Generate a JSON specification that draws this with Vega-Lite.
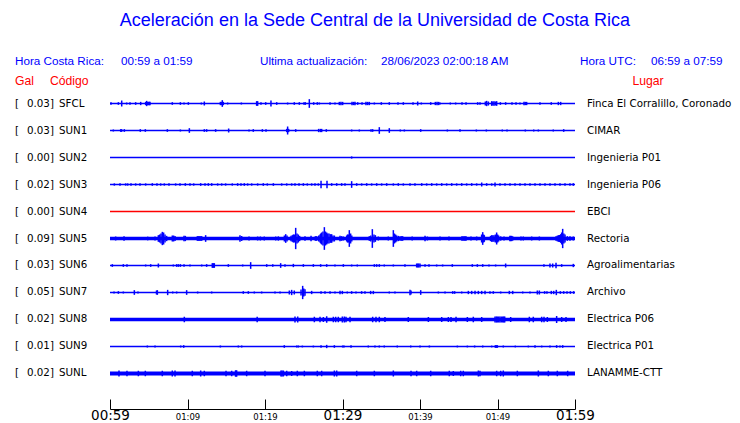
{
  "$schema": "https://vega.github.io/schema/vega-lite/v6.json",
  "width": 465,
  "height": 341,
  "autosize": {"type": "none"},
  "padding": {"left": 110, "top": 68, "right": 165, "bottom": 14},
  "background": "white",
  "config": {"view": {"stroke": null}, "text": {"font": "DejaVu Sans"}},
  "datasets": {
    "estaciones": [
      {"est": "SFCL", "gal": 0.03, "lugar": "Finca El Corralillo, Coronado", "ruido": 1.7, "estado": "activa"},
      {"est": "SUN1", "gal": 0.03, "lugar": "CIMAR", "ruido": 1.7, "estado": "activa"},
      {"est": "SUN2", "gal": 0.00, "lugar": "Ingenieria P01", "ruido": 1.5, "estado": "activa"},
      {"est": "SUN3", "gal": 0.02, "lugar": "Ingenieria P06", "ruido": 1.7, "estado": "activa"},
      {"est": "SUN4", "gal": 0.00, "lugar": "EBCI", "ruido": 1.3, "estado": "sin datos"},
      {"est": "SUN5", "gal": 0.09, "lugar": "Rectoria", "ruido": 3.3, "estado": "activa"},
      {"est": "SUN6", "gal": 0.03, "lugar": "Agroalimentarias", "ruido": 1.7, "estado": "activa"},
      {"est": "SUN7", "gal": 0.05, "lugar": "Archivo", "ruido": 1.7, "estado": "activa"},
      {"est": "SUN8", "gal": 0.02, "lugar": "Electrica P06", "ruido": 3.7, "estado": "activa"},
      {"est": "SUN9", "gal": 0.01, "lugar": "Electrica P01", "ruido": 1.3, "estado": "activa"},
      {"est": "SUNL", "gal": 0.02, "lugar": "LANAMME-CTT", "ruido": 4.0, "estado": "activa"}
    ],
    "picos": [
      {"est":"SFCL","min":0.13,"amp":2.7},{"est":"SFCL","min":1.08,"amp":2.7},{"est":"SFCL","min":1.51,"amp":6},{"est":"SFCL","min":2.15,"amp":2},{"est":"SFCL","min":2.58,"amp":2.7},{"est":"SFCL","min":3.31,"amp":2.7},{"est":"SFCL","min":3.96,"amp":3.3},{"est":"SFCL","min":4.6,"amp":3.3},{"est":"SFCL","min":4.73,"amp":5.3},{"est":"SFCL","min":4.85,"amp":3.3},{"est":"SFCL","min":4.95,"amp":3.3},{"est":"SFCL","min":5.06,"amp":3.3},{"est":"SFCL","min":5.16,"amp":3.3},{"est":"SFCL","min":8.04,"amp":2.7},{"est":"SFCL","min":9.08,"amp":2.7},{"est":"SFCL","min":9.55,"amp":2},{"est":"SFCL","min":10.11,"amp":2.7},{"est":"SFCL","min":11.79,"amp":2},{"est":"SFCL","min":12.17,"amp":4},{"est":"SFCL","min":14.24,"amp":3.3},{"est":"SFCL","min":14.37,"amp":3.3},{"est":"SFCL","min":14.49,"amp":6.7},{"est":"SFCL","min":14.62,"amp":3.3},{"est":"SFCL","min":15.18,"amp":2},{"est":"SFCL","min":16.95,"amp":2},{"est":"SFCL","min":18.92,"amp":4.7},{"est":"SFCL","min":19.05,"amp":4.7},{"est":"SFCL","min":19.48,"amp":2.7},{"est":"SFCL","min":20.09,"amp":2.7},{"est":"SFCL","min":20.77,"amp":6},{"est":"SFCL","min":21.51,"amp":2.7},{"est":"SFCL","min":22.92,"amp":2},{"est":"SFCL","min":23.78,"amp":2.7},{"est":"SFCL","min":24.43,"amp":2.7},{"est":"SFCL","min":25.03,"amp":2.7},{"est":"SFCL","min":25.2,"amp":2.7},{"est":"SFCL","min":25.72,"amp":8.7},{"est":"SFCL","min":26.28,"amp":2.7},{"est":"SFCL","min":26.75,"amp":2.7},{"est":"SFCL","min":27.01,"amp":2},{"est":"SFCL","min":28.39,"amp":2.7},{"est":"SFCL","min":29.03,"amp":2},{"est":"SFCL","min":29.59,"amp":3.3},{"est":"SFCL","min":29.8,"amp":3.3},{"est":"SFCL","min":30.02,"amp":3.3},{"est":"SFCL","min":31.23,"amp":3.3},{"est":"SFCL","min":31.44,"amp":3.3},{"est":"SFCL","min":31.61,"amp":3.3},{"est":"SFCL","min":31.96,"amp":2.7},{"est":"SFCL","min":32.52,"amp":2.7},{"est":"SFCL","min":33.03,"amp":3.3},{"est":"SFCL","min":33.25,"amp":3.3},{"est":"SFCL","min":33.46,"amp":3.3},{"est":"SFCL","min":34.11,"amp":2},{"est":"SFCL","min":35.01,"amp":2.7},{"est":"SFCL","min":36.04,"amp":2.7},{"est":"SFCL","min":37.16,"amp":2.7},{"est":"SFCL","min":37.85,"amp":2.7},{"est":"SFCL","min":39.1,"amp":2.7},{"est":"SFCL","min":39.7,"amp":4},{"est":"SFCL","min":40.17,"amp":2},{"est":"SFCL","min":41.38,"amp":2.7},{"est":"SFCL","min":41.98,"amp":3.3},{"est":"SFCL","min":42.2,"amp":3.3},{"est":"SFCL","min":42.41,"amp":3.3},{"est":"SFCL","min":42.58,"amp":2},{"est":"SFCL","min":43.91,"amp":2},{"est":"SFCL","min":44.6,"amp":2},{"est":"SFCL","min":45.42,"amp":2.7},{"est":"SFCL","min":45.94,"amp":2.7},{"est":"SFCL","min":47.44,"amp":2.7},{"est":"SFCL","min":47.74,"amp":2.7},{"est":"SFCL","min":48.43,"amp":4},{"est":"SFCL","min":48.6,"amp":5.3},{"est":"SFCL","min":48.82,"amp":4},{"est":"SFCL","min":49.25,"amp":4.7},{"est":"SFCL","min":49.4,"amp":4},{"est":"SFCL","min":49.55,"amp":4.7},{"est":"SFCL","min":49.72,"amp":4},{"est":"SFCL","min":49.89,"amp":4.7},{"est":"SFCL","min":50.37,"amp":2.7},{"est":"SFCL","min":51.05,"amp":2.7},{"est":"SFCL","min":51.87,"amp":2.7},{"est":"SFCL","min":52.39,"amp":2.7},{"est":"SFCL","min":52.9,"amp":2},{"est":"SFCL","min":53.42,"amp":3.3},{"est":"SFCL","min":53.59,"amp":3.3},{"est":"SFCL","min":53.76,"amp":3.3},{"est":"SFCL","min":55.48,"amp":2.7},{"est":"SFCL","min":56.94,"amp":2.7},{"est":"SFCL","min":57.85,"amp":3.3},{"est":"SFCL","min":58.15,"amp":3.3},
      {"est":"SUN1","min":0.43,"amp":2},{"est":"SUN1","min":1.38,"amp":2.7},{"est":"SUN1","min":1.5,"amp":2.7},{"est":"SUN1","min":1.85,"amp":2.7},{"est":"SUN1","min":3.91,"amp":2.7},{"est":"SUN1","min":4.56,"amp":2.7},{"est":"SUN1","min":7.4,"amp":2.7},{"est":"SUN1","min":9.08,"amp":2},{"est":"SUN1","min":10.24,"amp":4.7},{"est":"SUN1","min":12.17,"amp":2.7},{"est":"SUN1","min":12.47,"amp":2.7},{"est":"SUN1","min":13.63,"amp":2.7},{"est":"SUN1","min":15.31,"amp":4},{"est":"SUN1","min":17.94,"amp":2},{"est":"SUN1","min":18.49,"amp":2.7},{"est":"SUN1","min":19.66,"amp":2.7},{"est":"SUN1","min":20.13,"amp":2.7},{"est":"SUN1","min":22.8,"amp":3.3},{"est":"SUN1","min":22.92,"amp":8},{"est":"SUN1","min":23.05,"amp":3.3},{"est":"SUN1","min":23.96,"amp":2.7},{"est":"SUN1","min":26.92,"amp":3.3},{"est":"SUN1","min":27.14,"amp":3.3},{"est":"SUN1","min":27.31,"amp":3.3},{"est":"SUN1","min":27.91,"amp":2.7},{"est":"SUN1","min":31.18,"amp":2},{"est":"SUN1","min":32.17,"amp":2},{"est":"SUN1","min":33.68,"amp":2.7},{"est":"SUN1","min":33.89,"amp":2.7},{"est":"SUN1","min":34.75,"amp":6.7},{"est":"SUN1","min":36.04,"amp":4.7},{"est":"SUN1","min":37.46,"amp":2},{"est":"SUN1","min":37.98,"amp":2},{"est":"SUN1","min":40.09,"amp":2.7},{"est":"SUN1","min":43.53,"amp":2},{"est":"SUN1","min":45.16,"amp":2.7},{"est":"SUN1","min":47.27,"amp":2},{"est":"SUN1","min":48.56,"amp":2},{"est":"SUN1","min":50.62,"amp":2},{"est":"SUN1","min":51.23,"amp":2},{"est":"SUN1","min":53.59,"amp":2},{"est":"SUN1","min":54.67,"amp":2},{"est":"SUN1","min":55.27,"amp":2},{"est":"SUN1","min":57.2,"amp":2},{"est":"SUN1","min":58.54,"amp":2.7},
      {"est":"SUN2","min":31.18,"amp":2.2},
      {"est":"SUN3","min":0.56,"amp":2.3},{"est":"SUN3","min":1.29,"amp":2.7},{"est":"SUN3","min":2.02,"amp":2.3},{"est":"SUN3","min":2.28,"amp":2.3},{"est":"SUN3","min":2.71,"amp":2.3},{"est":"SUN3","min":3.31,"amp":2.3},{"est":"SUN3","min":3.87,"amp":2.3},{"est":"SUN3","min":4.6,"amp":2.3},{"est":"SUN3","min":5.46,"amp":2.7},{"est":"SUN3","min":6.06,"amp":2.7},{"est":"SUN3","min":6.54,"amp":2.3},{"est":"SUN3","min":7.01,"amp":2.3},{"est":"SUN3","min":7.61,"amp":2.3},{"est":"SUN3","min":8.47,"amp":2.3},{"est":"SUN3","min":9.03,"amp":2.3},{"est":"SUN3","min":9.72,"amp":2.7},{"est":"SUN3","min":10.32,"amp":2.3},{"est":"SUN3","min":10.8,"amp":2.3},{"est":"SUN3","min":11.7,"amp":2.7},{"est":"SUN3","min":12.26,"amp":2.7},{"est":"SUN3","min":12.69,"amp":2.7},{"est":"SUN3","min":13.12,"amp":2.7},{"est":"SUN3","min":13.89,"amp":2.3},{"est":"SUN3","min":14.41,"amp":2.3},{"est":"SUN3","min":14.92,"amp":2.3},{"est":"SUN3","min":15.78,"amp":2.3},{"est":"SUN3","min":16.47,"amp":2.7},{"est":"SUN3","min":16.9,"amp":2.7},{"est":"SUN3","min":17.33,"amp":2.7},{"est":"SUN3","min":17.76,"amp":2.3},{"est":"SUN3","min":18.28,"amp":2.3},{"est":"SUN3","min":19.05,"amp":2.3},{"est":"SUN3","min":19.78,"amp":2.7},{"est":"SUN3","min":20.3,"amp":2.3},{"est":"SUN3","min":21.08,"amp":2.7},{"est":"SUN3","min":22.15,"amp":2.3},{"est":"SUN3","min":22.8,"amp":2.3},{"est":"SUN3","min":23.44,"amp":2.3},{"est":"SUN3","min":23.87,"amp":2.7},{"est":"SUN3","min":24.39,"amp":2.7},{"est":"SUN3","min":24.95,"amp":2.7},{"est":"SUN3","min":25.46,"amp":2.3},{"est":"SUN3","min":26.02,"amp":2.3},{"est":"SUN3","min":26.45,"amp":2.3},{"est":"SUN3","min":26.88,"amp":2.3},{"est":"SUN3","min":27.23,"amp":7.3},{"est":"SUN3","min":28.0,"amp":7.3},{"est":"SUN3","min":28.6,"amp":2.7},{"est":"SUN3","min":29.25,"amp":2.7},{"est":"SUN3","min":29.89,"amp":2.7},{"est":"SUN3","min":30.32,"amp":2.7},{"est":"SUN3","min":31.18,"amp":6.7},{"est":"SUN3","min":31.83,"amp":2.7},{"est":"SUN3","min":32.47,"amp":2.3},{"est":"SUN3","min":33.12,"amp":2.7},{"est":"SUN3","min":33.76,"amp":2.3},{"est":"SUN3","min":34.41,"amp":2.7},{"est":"SUN3","min":35.05,"amp":2.3},{"est":"SUN3","min":35.7,"amp":2.7},{"est":"SUN3","min":36.56,"amp":2.3},{"est":"SUN3","min":37.2,"amp":2.7},{"est":"SUN3","min":37.85,"amp":2.3},{"est":"SUN3","min":38.71,"amp":2.7},{"est":"SUN3","min":39.35,"amp":2.3},{"est":"SUN3","min":40.22,"amp":2.7},{"est":"SUN3","min":40.86,"amp":2.3},{"est":"SUN3","min":41.51,"amp":2.7},{"est":"SUN3","min":42.15,"amp":2.3},{"est":"SUN3","min":42.8,"amp":2.7},{"est":"SUN3","min":43.44,"amp":2.3},{"est":"SUN3","min":44.09,"amp":2.7},{"est":"SUN3","min":44.73,"amp":2.3},{"est":"SUN3","min":45.38,"amp":2.7},{"est":"SUN3","min":46.02,"amp":2.3},{"est":"SUN3","min":46.67,"amp":2.7},{"est":"SUN3","min":47.31,"amp":2.3},{"est":"SUN3","min":47.96,"amp":4},{"est":"SUN3","min":48.6,"amp":2.7},{"est":"SUN3","min":49.25,"amp":2.3},{"est":"SUN3","min":49.68,"amp":4},{"est":"SUN3","min":50.32,"amp":2.7},{"est":"SUN3","min":50.97,"amp":2.3},{"est":"SUN3","min":51.61,"amp":2.7},{"est":"SUN3","min":52.26,"amp":2.3},{"est":"SUN3","min":52.9,"amp":2.7},{"est":"SUN3","min":53.55,"amp":2.3},{"est":"SUN3","min":54.19,"amp":2.7},{"est":"SUN3","min":54.84,"amp":2.3},{"est":"SUN3","min":55.48,"amp":2.7},{"est":"SUN3","min":56.13,"amp":2.3},{"est":"SUN3","min":56.77,"amp":2.7},{"est":"SUN3","min":57.42,"amp":2.3},{"est":"SUN3","min":58.06,"amp":2.7},{"est":"SUN3","min":58.71,"amp":2.7},{"est":"SUN3","min":59.35,"amp":2.7},{"est":"SUN3","min":59.78,"amp":2.7},
      {"est":"SUN5","min":0.73,"amp":4},{"est":"SUN5","min":1.81,"amp":4.7},{"est":"SUN5","min":4.86,"amp":3.7},{"est":"SUN5","min":5.81,"amp":4},{"est":"SUN5","min":6.24,"amp":6.7},{"est":"SUN5","min":6.41,"amp":8},{"est":"SUN5","min":6.58,"amp":10},{"est":"SUN5","min":6.75,"amp":13.3},{"est":"SUN5","min":6.92,"amp":12},{"est":"SUN5","min":7.1,"amp":8},{"est":"SUN5","min":7.31,"amp":5.3},{"est":"SUN5","min":8.04,"amp":6},{"est":"SUN5","min":8.21,"amp":6},{"est":"SUN5","min":8.39,"amp":5},{"est":"SUN5","min":9.55,"amp":5.3},{"est":"SUN5","min":9.72,"amp":5.3},{"est":"SUN5","min":11.27,"amp":4.7},{"est":"SUN5","min":11.4,"amp":4.7},{"est":"SUN5","min":11.53,"amp":4.7},{"est":"SUN5","min":11.68,"amp":4.7},{"est":"SUN5","min":11.83,"amp":4.7},{"est":"SUN5","min":12.34,"amp":6.7},{"est":"SUN5","min":16.77,"amp":6.7},{"est":"SUN5","min":16.99,"amp":5},{"est":"SUN5","min":17.94,"amp":4},{"est":"SUN5","min":19.05,"amp":4},{"est":"SUN5","min":19.4,"amp":4},{"est":"SUN5","min":19.91,"amp":4},{"est":"SUN5","min":21.38,"amp":4},{"est":"SUN5","min":21.72,"amp":4.3},{"est":"SUN5","min":22.5,"amp":6},{"est":"SUN5","min":22.67,"amp":8.7},{"est":"SUN5","min":22.84,"amp":6},{"est":"SUN5","min":23.36,"amp":5.3},{"est":"SUN5","min":23.53,"amp":6.7},{"est":"SUN5","min":23.66,"amp":8},{"est":"SUN5","min":23.78,"amp":8},{"est":"SUN5","min":23.96,"amp":21.3},{"est":"SUN5","min":24.13,"amp":10},{"est":"SUN5","min":24.3,"amp":8},{"est":"SUN5","min":24.47,"amp":5.3},{"est":"SUN5","min":25.16,"amp":4.7},{"est":"SUN5","min":25.94,"amp":5.3},{"est":"SUN5","min":26.5,"amp":4.7},{"est":"SUN5","min":26.67,"amp":4.7},{"est":"SUN5","min":26.93,"amp":6},{"est":"SUN5","min":27.1,"amp":8},{"est":"SUN5","min":27.2,"amp":10},{"est":"SUN5","min":27.31,"amp":12},{"est":"SUN5","min":27.48,"amp":14},{"est":"SUN5","min":27.66,"amp":22.7},{"est":"SUN5","min":27.8,"amp":14},{"est":"SUN5","min":27.96,"amp":12},{"est":"SUN5","min":28.1,"amp":10},{"est":"SUN5","min":28.26,"amp":10},{"est":"SUN5","min":28.43,"amp":8.7},{"est":"SUN5","min":28.6,"amp":8.7},{"est":"SUN5","min":28.77,"amp":6},{"est":"SUN5","min":28.95,"amp":6},{"est":"SUN5","min":29.68,"amp":5.3},{"est":"SUN5","min":29.89,"amp":4.7},{"est":"SUN5","min":30.11,"amp":4},{"est":"SUN5","min":30.54,"amp":6},{"est":"SUN5","min":30.65,"amp":8},{"est":"SUN5","min":30.75,"amp":8},{"est":"SUN5","min":30.88,"amp":16.7},{"est":"SUN5","min":31.05,"amp":10},{"est":"SUN5","min":31.2,"amp":6},{"est":"SUN5","min":33.46,"amp":4.7},{"est":"SUN5","min":33.65,"amp":6},{"est":"SUN5","min":33.85,"amp":18.7},{"est":"SUN5","min":34.06,"amp":8},{"est":"SUN5","min":34.24,"amp":6.7},{"est":"SUN5","min":34.62,"amp":4},{"est":"SUN5","min":35.91,"amp":4},{"est":"SUN5","min":36.56,"amp":16.7},{"est":"SUN5","min":36.7,"amp":10},{"est":"SUN5","min":36.85,"amp":8},{"est":"SUN5","min":36.99,"amp":6},{"est":"SUN5","min":37.2,"amp":5.3},{"est":"SUN5","min":37.42,"amp":4.7},{"est":"SUN5","min":37.6,"amp":4.7},{"est":"SUN5","min":37.76,"amp":4.7},{"est":"SUN5","min":38.99,"amp":4},{"est":"SUN5","min":40.65,"amp":5.3},{"est":"SUN5","min":40.95,"amp":4},{"est":"SUN5","min":42.58,"amp":4},{"est":"SUN5","min":43.74,"amp":4},{"est":"SUN5","min":45.38,"amp":4.3},{"est":"SUN5","min":45.53,"amp":4.3},{"est":"SUN5","min":45.68,"amp":4.3},{"est":"SUN5","min":45.81,"amp":4.3},{"est":"SUN5","min":45.94,"amp":4.3},{"est":"SUN5","min":46.58,"amp":4},{"est":"SUN5","min":47.31,"amp":4},{"est":"SUN5","min":47.95,"amp":8},{"est":"SUN5","min":48.09,"amp":12.7},{"est":"SUN5","min":48.2,"amp":8},{"est":"SUN5","min":48.3,"amp":6.7},{"est":"SUN5","min":49.1,"amp":5.3},{"est":"SUN5","min":49.25,"amp":6.7},{"est":"SUN5","min":49.4,"amp":6.7},{"est":"SUN5","min":49.55,"amp":6.7},{"est":"SUN5","min":49.72,"amp":8},{"est":"SUN5","min":49.89,"amp":12},{"est":"SUN5","min":50.02,"amp":8},{"est":"SUN5","min":50.15,"amp":6},{"est":"SUN5","min":50.41,"amp":4.3},{"est":"SUN5","min":50.84,"amp":4},{"est":"SUN5","min":51.6,"amp":5.3},{"est":"SUN5","min":51.7,"amp":5.3},{"est":"SUN5","min":51.83,"amp":5.3},{"est":"SUN5","min":51.96,"amp":4.3},{"est":"SUN5","min":53.03,"amp":4},{"est":"SUN5","min":53.33,"amp":4},{"est":"SUN5","min":54.41,"amp":4},{"est":"SUN5","min":55.4,"amp":4},{"est":"SUN5","min":57.55,"amp":4.3},{"est":"SUN5","min":57.7,"amp":5.3},{"est":"SUN5","min":57.85,"amp":6.7},{"est":"SUN5","min":58.0,"amp":7},{"est":"SUN5","min":58.15,"amp":8.7},{"est":"SUN5","min":58.28,"amp":12},{"est":"SUN5","min":58.41,"amp":19.3},{"est":"SUN5","min":58.56,"amp":10},{"est":"SUN5","min":58.71,"amp":8},{"est":"SUN5","min":59.01,"amp":4.7},{"est":"SUN5","min":59.35,"amp":4.7},{"est":"SUN5","min":59.78,"amp":4},
      {"est":"SUN6","min":0.3,"amp":2.7},{"est":"SUN6","min":1.72,"amp":2.7},{"est":"SUN6","min":2.19,"amp":2.7},{"est":"SUN6","min":4.6,"amp":2},{"est":"SUN6","min":5.25,"amp":2.7},{"est":"SUN6","min":6.24,"amp":4},{"est":"SUN6","min":8.17,"amp":2},{"est":"SUN6","min":8.6,"amp":2.7},{"est":"SUN6","min":8.82,"amp":2.7},{"est":"SUN6","min":9.08,"amp":2.7},{"est":"SUN6","min":9.55,"amp":2.7},{"est":"SUN6","min":10.32,"amp":2},{"est":"SUN6","min":11.83,"amp":2},{"est":"SUN6","min":12.47,"amp":2.7},{"est":"SUN6","min":13.2,"amp":4.7},{"est":"SUN6","min":13.33,"amp":4.7},{"est":"SUN6","min":13.46,"amp":4.7},{"est":"SUN6","min":15.27,"amp":2.7},{"est":"SUN6","min":17.12,"amp":2},{"est":"SUN6","min":18.15,"amp":6.7},{"est":"SUN6","min":20.22,"amp":2.7},{"est":"SUN6","min":21.0,"amp":2.7},{"est":"SUN6","min":22.02,"amp":4.7},{"est":"SUN6","min":22.58,"amp":2.7},{"est":"SUN6","min":23.66,"amp":3.3},{"est":"SUN6","min":24.95,"amp":2.7},{"est":"SUN6","min":26.24,"amp":2.7},{"est":"SUN6","min":27.18,"amp":2.7},{"est":"SUN6","min":27.96,"amp":2.7},{"est":"SUN6","min":29.03,"amp":2},{"est":"SUN6","min":30.11,"amp":2.7},{"est":"SUN6","min":31.18,"amp":2},{"est":"SUN6","min":31.91,"amp":2},{"est":"SUN6","min":34.11,"amp":2.7},{"est":"SUN6","min":34.41,"amp":2.7},{"est":"SUN6","min":34.75,"amp":2.7},{"est":"SUN6","min":35.39,"amp":2},{"est":"SUN6","min":36.56,"amp":2},{"est":"SUN6","min":38.06,"amp":2.7},{"est":"SUN6","min":39.57,"amp":4},{"est":"SUN6","min":39.7,"amp":4},{"est":"SUN6","min":39.83,"amp":4},{"est":"SUN6","min":40.0,"amp":4},{"est":"SUN6","min":40.65,"amp":2.7},{"est":"SUN6","min":41.16,"amp":2.7},{"est":"SUN6","min":42.15,"amp":2},{"est":"SUN6","min":42.92,"amp":2},{"est":"SUN6","min":44.17,"amp":2.7},{"est":"SUN6","min":46.75,"amp":2.7},{"est":"SUN6","min":47.4,"amp":2.7},{"est":"SUN6","min":48.09,"amp":2.7},{"est":"SUN6","min":48.9,"amp":2},{"est":"SUN6","min":49.76,"amp":2},{"est":"SUN6","min":51.05,"amp":4},{"est":"SUN6","min":55.99,"amp":2.7},{"est":"SUN6","min":56.77,"amp":4},{"est":"SUN6","min":57.12,"amp":4},{"est":"SUN6","min":57.55,"amp":5.3},{"est":"SUN6","min":58.28,"amp":2.7},{"est":"SUN6","min":59.78,"amp":3.3},
      {"est":"SUN7","min":0.52,"amp":2},{"est":"SUN7","min":1.08,"amp":2.7},{"est":"SUN7","min":1.72,"amp":2},{"est":"SUN7","min":3.14,"amp":4.7},{"est":"SUN7","min":3.61,"amp":2},{"est":"SUN7","min":6.0,"amp":4},{"est":"SUN7","min":6.11,"amp":4.7},{"est":"SUN7","min":7.44,"amp":5.3},{"est":"SUN7","min":8.09,"amp":2},{"est":"SUN7","min":8.6,"amp":2},{"est":"SUN7","min":9.89,"amp":4.7},{"est":"SUN7","min":11.31,"amp":2},{"est":"SUN7","min":13.12,"amp":2},{"est":"SUN7","min":17.2,"amp":2.7},{"est":"SUN7","min":17.85,"amp":2.7},{"est":"SUN7","min":18.62,"amp":2},{"est":"SUN7","min":19.57,"amp":2},{"est":"SUN7","min":21.29,"amp":2},{"est":"SUN7","min":21.94,"amp":2},{"est":"SUN7","min":23.14,"amp":4},{"est":"SUN7","min":23.44,"amp":5.3},{"est":"SUN7","min":23.78,"amp":4},{"est":"SUN7","min":24.65,"amp":6},{"est":"SUN7","min":24.86,"amp":13.3},{"est":"SUN7","min":25.0,"amp":8},{"est":"SUN7","min":25.16,"amp":6.7},{"est":"SUN7","min":26.02,"amp":3.3},{"est":"SUN7","min":27.23,"amp":2.7},{"est":"SUN7","min":27.74,"amp":2.7},{"est":"SUN7","min":28.39,"amp":2.7},{"est":"SUN7","min":29.03,"amp":2},{"est":"SUN7","min":29.68,"amp":3.3},{"est":"SUN7","min":29.98,"amp":3.3},{"est":"SUN7","min":30.62,"amp":2},{"est":"SUN7","min":31.18,"amp":2.7},{"est":"SUN7","min":31.74,"amp":2},{"est":"SUN7","min":32.47,"amp":2.7},{"est":"SUN7","min":32.9,"amp":2.7},{"est":"SUN7","min":33.63,"amp":3.3},{"est":"SUN7","min":33.98,"amp":3.3},{"est":"SUN7","min":36.04,"amp":2},{"est":"SUN7","min":36.77,"amp":2},{"est":"SUN7","min":38.71,"amp":5.3},{"est":"SUN7","min":38.84,"amp":4},{"est":"SUN7","min":40.09,"amp":4.7},{"est":"SUN7","min":42.37,"amp":2},{"est":"SUN7","min":43.23,"amp":2},{"est":"SUN7","min":44.22,"amp":2.7},{"est":"SUN7","min":44.47,"amp":2.7},{"est":"SUN7","min":45.38,"amp":2},{"est":"SUN7","min":46.24,"amp":3.3},{"est":"SUN7","min":46.67,"amp":3.3},{"est":"SUN7","min":47.1,"amp":3.3},{"est":"SUN7","min":47.53,"amp":3.3},{"est":"SUN7","min":47.96,"amp":3.3},{"est":"SUN7","min":48.39,"amp":3.3},{"est":"SUN7","min":49.03,"amp":2.7},{"est":"SUN7","min":49.46,"amp":2.7},{"est":"SUN7","min":50.41,"amp":2},{"est":"SUN7","min":51.53,"amp":3.3},{"est":"SUN7","min":51.96,"amp":3.3},{"est":"SUN7","min":53.25,"amp":2},{"est":"SUN7","min":54.19,"amp":2},{"est":"SUN7","min":55.14,"amp":4},{"est":"SUN7","min":55.4,"amp":4},{"est":"SUN7","min":56.08,"amp":2.7},{"est":"SUN7","min":56.38,"amp":2.7},{"est":"SUN7","min":56.94,"amp":3.3},{"est":"SUN7","min":57.25,"amp":3.3},{"est":"SUN7","min":57.59,"amp":5.3},{"est":"SUN7","min":58.11,"amp":2.7},{"est":"SUN7","min":58.54,"amp":2.7},{"est":"SUN7","min":58.97,"amp":2.7},{"est":"SUN7","min":59.4,"amp":2.7},{"est":"SUN7","min":59.83,"amp":2.7},
      {"est":"SUN8","min":9.59,"amp":5.5},{"est":"SUN8","min":18.99,"amp":5.5},{"est":"SUN8","min":23.87,"amp":6},{"est":"SUN8","min":24.22,"amp":6},{"est":"SUN8","min":26.37,"amp":5.5},{"est":"SUN8","min":27.1,"amp":5.5},{"est":"SUN8","min":27.53,"amp":5},{"est":"SUN8","min":27.96,"amp":6.5},{"est":"SUN8","min":28.82,"amp":5.5},{"est":"SUN8","min":29.12,"amp":5.5},{"est":"SUN8","min":29.46,"amp":5.5},{"est":"SUN8","min":29.98,"amp":6},{"est":"SUN8","min":30.24,"amp":6},{"est":"SUN8","min":30.45,"amp":5.5},{"est":"SUN8","min":30.97,"amp":5.5},{"est":"SUN8","min":33.89,"amp":5.5},{"est":"SUN8","min":34.32,"amp":5.5},{"est":"SUN8","min":34.75,"amp":5.5},{"est":"SUN8","min":35.48,"amp":5},{"est":"SUN8","min":38.49,"amp":5},{"est":"SUN8","min":41.08,"amp":5},{"est":"SUN8","min":42.8,"amp":5},{"est":"SUN8","min":43.66,"amp":5},{"est":"SUN8","min":44.0,"amp":5},{"est":"SUN8","min":44.65,"amp":5.5},{"est":"SUN8","min":46.11,"amp":5},{"est":"SUN8","min":46.88,"amp":5.5},{"est":"SUN8","min":47.96,"amp":5},{"est":"SUN8","min":49.68,"amp":6},{"est":"SUN8","min":49.85,"amp":6},{"est":"SUN8","min":49.98,"amp":6},{"est":"SUN8","min":50.15,"amp":6},{"est":"SUN8","min":50.32,"amp":6},{"est":"SUN8","min":50.5,"amp":6},{"est":"SUN8","min":50.67,"amp":6},{"est":"SUN8","min":50.8,"amp":6},{"est":"SUN8","min":50.93,"amp":6},{"est":"SUN8","min":51.7,"amp":5},{"est":"SUN8","min":54.11,"amp":5.5},{"est":"SUN8","min":54.62,"amp":5.5},{"est":"SUN8","min":55.7,"amp":5.5},{"est":"SUN8","min":56.0,"amp":5.5},{"est":"SUN8","min":56.43,"amp":5},{"est":"SUN8","min":57.63,"amp":7},{"est":"SUN8","min":58.28,"amp":5},{"est":"SUN8","min":58.84,"amp":5},
      {"est":"SUN9","min":4.82,"amp":2},{"est":"SUN9","min":5.81,"amp":2},{"est":"SUN9","min":9.12,"amp":2},{"est":"SUN9","min":9.51,"amp":2.7},{"est":"SUN9","min":14.24,"amp":2},{"est":"SUN9","min":16.56,"amp":2},{"est":"SUN9","min":16.99,"amp":2},{"est":"SUN9","min":22.49,"amp":2.7},{"est":"SUN9","min":24.09,"amp":2},{"est":"SUN9","min":24.3,"amp":2},{"est":"SUN9","min":24.82,"amp":1.8},{"est":"SUN9","min":26.24,"amp":1.8},{"est":"SUN9","min":27.23,"amp":2.7},{"est":"SUN9","min":27.96,"amp":3.3},{"est":"SUN9","min":28.95,"amp":2.7},{"est":"SUN9","min":30.02,"amp":2},{"est":"SUN9","min":30.19,"amp":2},{"est":"SUN9","min":31.1,"amp":2.7},{"est":"SUN9","min":33.33,"amp":2},{"est":"SUN9","min":34.19,"amp":2},{"est":"SUN9","min":34.75,"amp":2},{"est":"SUN9","min":35.39,"amp":2},{"est":"SUN9","min":37.07,"amp":2},{"est":"SUN9","min":38.8,"amp":2},{"est":"SUN9","min":40.0,"amp":1.8},{"est":"SUN9","min":41.21,"amp":2},{"est":"SUN9","min":44.82,"amp":1.8},{"est":"SUN9","min":46.11,"amp":1.8},{"est":"SUN9","min":47.05,"amp":2},{"est":"SUN9","min":48.09,"amp":2},{"est":"SUN9","min":49.25,"amp":1.8},{"est":"SUN9","min":49.72,"amp":2.7},{"est":"SUN9","min":49.85,"amp":2.7},{"est":"SUN9","min":49.98,"amp":2.7},{"est":"SUN9","min":50.75,"amp":2},{"est":"SUN9","min":52.3,"amp":1.8},{"est":"SUN9","min":53.98,"amp":1.8},{"est":"SUN9","min":54.84,"amp":2.7},{"est":"SUN9","min":55.7,"amp":1.8},{"est":"SUN9","min":56.77,"amp":2},{"est":"SUN9","min":57.63,"amp":2.7},{"est":"SUN9","min":58.06,"amp":2},{"est":"SUN9","min":58.41,"amp":2.7},
      {"est":"SUNL","min":1.16,"amp":6},{"est":"SUNL","min":2.19,"amp":5.5},{"est":"SUNL","min":3.66,"amp":5.5},{"est":"SUNL","min":4.56,"amp":5.5},{"est":"SUNL","min":6.75,"amp":5.5},{"est":"SUNL","min":8.04,"amp":6},{"est":"SUNL","min":8.39,"amp":6},{"est":"SUNL","min":10.62,"amp":5.5},{"est":"SUNL","min":11.7,"amp":6},{"est":"SUNL","min":12.17,"amp":5.5},{"est":"SUNL","min":14.97,"amp":5.5},{"est":"SUNL","min":15.7,"amp":5.5},{"est":"SUNL","min":16.2,"amp":6.5},{"est":"SUNL","min":16.34,"amp":6.5},{"est":"SUNL","min":17.63,"amp":5.5},{"est":"SUNL","min":20.0,"amp":5.5},{"est":"SUNL","min":22.06,"amp":6},{"est":"SUNL","min":22.2,"amp":6},{"est":"SUNL","min":22.37,"amp":6},{"est":"SUNL","min":22.8,"amp":5.5},{"est":"SUNL","min":23.44,"amp":5},{"est":"SUNL","min":24.17,"amp":5.5},{"est":"SUNL","min":25.08,"amp":5.5},{"est":"SUNL","min":26.75,"amp":5.5},{"est":"SUNL","min":27.31,"amp":5.5},{"est":"SUNL","min":28.95,"amp":6},{"est":"SUNL","min":29.25,"amp":6},{"est":"SUNL","min":31.83,"amp":5.5},{"est":"SUNL","min":34.11,"amp":5.5},{"est":"SUNL","min":36.56,"amp":6},{"est":"SUNL","min":38.84,"amp":5.5},{"est":"SUNL","min":39.57,"amp":5.5},{"est":"SUNL","min":41.38,"amp":5.5},{"est":"SUNL","min":43.78,"amp":5.5},{"est":"SUNL","min":44.3,"amp":5},{"est":"SUNL","min":45.25,"amp":5.5},{"est":"SUNL","min":45.59,"amp":5.5},{"est":"SUNL","min":47.53,"amp":6},{"est":"SUNL","min":47.74,"amp":5.5},{"est":"SUNL","min":49.89,"amp":5.5},{"est":"SUNL","min":50.41,"amp":5.5},{"est":"SUNL","min":50.75,"amp":6},{"est":"SUNL","min":52.56,"amp":5.5},{"est":"SUNL","min":55.27,"amp":6},{"est":"SUNL","min":56.56,"amp":5.5},{"est":"SUNL","min":57.72,"amp":5.5},{"est":"SUNL","min":59.05,"amp":5.5}
    ]
  },
  "resolve": {"scale": {"y": "independent"}},
  "layer": [
    {
      "data": {"name": "estaciones"},
      "encoding": {
        "y": {
          "field": "est", "type": "nominal", "axis": null,
          "scale": {"domain": ["SFCL","SUN1","SUN2","SUN3","SUN4","SUN5","SUN6","SUN7","SUN8","SUN9","SUNL"], "paddingInner": 0, "paddingOuter": 0.815}
        }
      },
      "layer": [
        {
          "mark": {"type": "bar"},
          "encoding": {
            "x": {
              "datum": 0, "type": "quantitative",
              "scale": {"domain": [0, 60], "nice": false, "zero": false},
              "axis": {
                "title": null,
                "values": [0,5,10,15,20,25,30,35,40,45,50,55,60],
                "labelExpr": "datum.value % 10 == 0 ? timeFormat(datetime(2023,5,28,0,59 + datum.value), '%H:%M') : ''",
                "tickSize": -10,
                "labelPadding": 20,
                "labelBaseline": "alphabetic",
                "labelFlush": false,
                "labelOverlap": false,
                "labelFont": "DejaVu Sans",
                "labelColor": "black",
                "labelFontWeight": "normal",
                "labelFontSize": {"condition": {"test": "datum.value % 30 == 0", "value": 13.5}, "value": 8.5},
                "domainColor": "black",
                "tickColor": "black",
                "grid": false
              }
            },
            "x2": {"datum": 60},
            "size": {"field": "ruido", "type": "quantitative", "scale": {"domain": [0, 25], "range": [0, 25]}, "legend": null},
            "color": {"field": "estado", "type": "nominal", "scale": {"domain": ["activa", "sin datos"], "range": ["#0000ff", "#ff0000"]}, "legend": null}
          }
        },
        {
          "data": {"name": "picos"},
          "mark": {"type": "tick", "orient": "vertical", "thickness": 1.5, "opacity": 1, "color": "#0000ff"},
          "encoding": {
            "x": {"field": "min", "type": "quantitative", "title": null},
            "size": {"field": "amp", "type": "quantitative", "legend": null}
          }
        },
        {
          "mark": {"type": "text", "text": "[", "align": "left", "fontSize": 10.3, "font": "DejaVu Sans"},
          "encoding": {"x": {"datum": -12.26, "type": "quantitative"}}
        },
        {
          "transform": [{"calculate": "format(datum.gal, '.2f') + ']'", "as": "galtxt"}],
          "mark": {"type": "text", "align": "left", "fontSize": 10.3, "font": "DejaVu Sans"},
          "encoding": {"x": {"datum": -10.71, "type": "quantitative"}, "text": {"field": "galtxt"}}
        },
        {
          "mark": {"type": "text", "align": "left", "fontSize": 10.3, "font": "DejaVu Sans"},
          "encoding": {"x": {"datum": -6.58, "type": "quantitative"}, "text": {"field": "est"}}
        },
        {
          "mark": {"type": "text", "align": "left", "fontSize": 10.3, "font": "DejaVu Sans"},
          "encoding": {"x": {"datum": 61.55, "type": "quantitative"}, "text": {"field": "lugar"}}
        }
      ]
    },
    {
      "data": {"values": [{}]},
      "encoding": {
        "y": {"datum": 2, "type": "quantitative", "axis": null, "scale": {"domain": [2.35, 19.4], "reverse": true, "nice": false, "zero": false}}
      },
      "layer": [
        {
          "mark": {"type": "text", "text": "Aceleración en la Sede Central de la Universidad de Costa Rica", "align": "center", "font": "Liberation Sans", "fontSize": 18, "color": "#0000ff"},
          "encoding": {"x": {"datum": 34.19, "type": "quantitative"}, "y": {"datum": 0, "type": "quantitative"}}
        },
        {
          "mark": {"type": "text", "text": "Hora Costa Rica:", "align": "left", "font": "Liberation Sans", "fontSize": 11.7, "color": "#0000ff"},
          "encoding": {"x": {"datum": -12.26, "type": "quantitative"}}
        },
        {
          "mark": {"type": "text", "text": "00:59 a 01:59", "align": "left", "font": "Liberation Sans", "fontSize": 11.7, "color": "#0000ff"},
          "encoding": {"x": {"datum": 1.42, "type": "quantitative"}}
        },
        {
          "mark": {"type": "text", "text": "Ultima actualización:", "align": "left", "font": "Liberation Sans", "fontSize": 11.7, "color": "#0000ff"},
          "encoding": {"x": {"datum": 19.35, "type": "quantitative"}}
        },
        {
          "mark": {"type": "text", "text": "28/06/2023 02:00:18 AM", "align": "left", "font": "Liberation Sans", "fontSize": 11.7, "color": "#0000ff"},
          "encoding": {"x": {"datum": 34.97, "type": "quantitative"}}
        },
        {
          "mark": {"type": "text", "text": "Hora UTC:", "align": "left", "font": "Liberation Sans", "fontSize": 11.7, "color": "#0000ff"},
          "encoding": {"x": {"datum": 60.65, "type": "quantitative"}}
        },
        {
          "mark": {"type": "text", "text": "06:59 a 07:59", "align": "left", "font": "Liberation Sans", "fontSize": 11.7, "color": "#0000ff"},
          "encoding": {"x": {"datum": 69.81, "type": "quantitative"}}
        },
        {
          "mark": {"type": "text", "text": "Gal", "align": "left", "font": "Liberation Sans", "fontSize": 12.2, "color": "#ff0000"},
          "encoding": {"x": {"datum": -12.26, "type": "quantitative"}, "y": {"datum": 3, "type": "quantitative"}}
        },
        {
          "mark": {"type": "text", "text": "Código", "align": "left", "font": "Liberation Sans", "fontSize": 12.2, "color": "#ff0000"},
          "encoding": {"x": {"datum": -7.74, "type": "quantitative"}, "y": {"datum": 3, "type": "quantitative"}}
        },
        {
          "mark": {"type": "text", "text": "Lugar", "align": "center", "font": "Liberation Sans", "fontSize": 12.2, "color": "#ff0000"},
          "encoding": {"x": {"datum": 69.42, "type": "quantitative"}, "y": {"datum": 3, "type": "quantitative"}}
        }
      ]
    }
  ]
}
